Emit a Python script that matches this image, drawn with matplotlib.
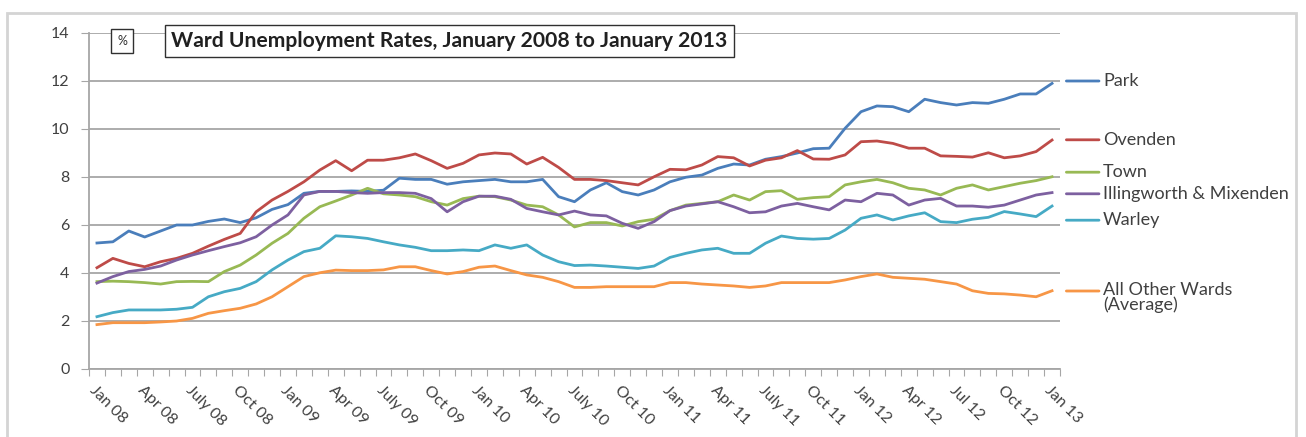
import numpy as np
import matplotlib
matplotlib.use("Agg")
import matplotlib.pyplot as plt
from matplotlib.patches import Rectangle

# ---------------------------------------------------------------------------
# data: monthly ward unemployment rate (%), Jan 2008 .. Jan 2013 (61 months)
# ---------------------------------------------------------------------------
park = [5.25, 5.30, 5.75, 5.50, 5.75, 6.00, 6.00, 6.15, 6.25, 6.10,
        6.30, 6.65, 6.85, 7.32, 7.40, 7.40, 7.42, 7.40, 7.45, 7.95,
        7.90, 7.90, 7.70, 7.80, 7.85, 7.90, 7.80, 7.80, 7.90, 7.18,
        6.97, 7.46, 7.76, 7.39, 7.25, 7.46, 7.80, 7.99, 8.08, 8.36,
        8.54, 8.50, 8.74, 8.85, 9.00, 9.18, 9.20, 10.03, 10.72, 10.96,
        10.93, 10.72, 11.24, 11.10, 11.00, 11.10, 11.07, 11.24, 11.46, 11.46,
        11.90]
ovenden = [4.22, 4.61, 4.40, 4.26, 4.47, 4.61, 4.82, 5.12, 5.40, 5.65,
           6.55, 7.04, 7.40, 7.80, 8.29, 8.68, 8.26, 8.70, 8.70, 8.80,
           8.96, 8.68, 8.36, 8.57, 8.92, 9.00, 8.96, 8.54, 8.82, 8.40,
           7.90, 7.90, 7.85, 7.76, 7.67, 8.01, 8.32, 8.30, 8.50, 8.85,
           8.80, 8.46, 8.70, 8.80, 9.10, 8.75, 8.74, 8.92, 9.47, 9.50,
           9.40, 9.20, 9.20, 8.88, 8.86, 8.83, 9.01, 8.80, 8.88, 9.06,
           9.54]
town = [3.64, 3.66, 3.64, 3.60, 3.54, 3.64, 3.65, 3.64, 4.06, 4.33,
        4.75, 5.24, 5.65, 6.28, 6.76, 7.00, 7.25, 7.53, 7.30, 7.25,
        7.18, 6.97, 6.83, 7.10, 7.20, 7.18, 7.04, 6.83, 6.76, 6.42,
        5.92, 6.10, 6.10, 5.96, 6.14, 6.24, 6.60, 6.83, 6.90, 6.97,
        7.25, 7.04, 7.39, 7.43, 7.07, 7.14, 7.18, 7.67, 7.80, 7.90,
        7.76, 7.53, 7.46, 7.25, 7.53, 7.67, 7.46, 7.60, 7.74, 7.85,
        8.01]
illingworth = [3.58, 3.85, 4.06, 4.15, 4.29, 4.54, 4.75, 4.93, 5.10, 5.26,
               5.51, 6.00, 6.42, 7.25, 7.40, 7.40, 7.35, 7.32, 7.35, 7.35,
               7.32, 7.10, 6.55, 6.97, 7.20, 7.20, 7.07, 6.69, 6.55, 6.42,
               6.58, 6.42, 6.38, 6.07, 5.86, 6.14, 6.60, 6.79, 6.88, 6.97,
               6.76, 6.51, 6.55, 6.79, 6.90, 6.76, 6.63, 7.04, 6.97, 7.32,
               7.25, 6.83, 7.04, 7.11, 6.79, 6.79, 6.74, 6.83, 7.04, 7.25,
               7.35]
warley = [2.18, 2.35, 2.46, 2.46, 2.46, 2.49, 2.57, 3.01, 3.22, 3.36,
          3.64, 4.13, 4.54, 4.89, 5.03, 5.55, 5.51, 5.44, 5.30, 5.17,
          5.07, 4.93, 4.93, 4.96, 4.93, 5.17, 5.03, 5.17, 4.75, 4.47,
          4.31, 4.33, 4.29, 4.24, 4.19, 4.29, 4.65, 4.82, 4.96, 5.03,
          4.82, 4.82, 5.24, 5.54, 5.44, 5.41, 5.44, 5.79, 6.28, 6.42,
          6.21, 6.38, 6.51, 6.14, 6.10, 6.24, 6.32, 6.56, 6.46, 6.35,
          6.79]
other_wards = [1.85, 1.93, 1.93, 1.93, 1.96, 2.00, 2.11, 2.32, 2.43, 2.53,
               2.71, 3.01, 3.43, 3.85, 4.01, 4.12, 4.10, 4.10, 4.13, 4.26,
               4.26, 4.10, 3.96, 4.06, 4.24, 4.29, 4.10, 3.92, 3.82, 3.64,
               3.40, 3.40, 3.43, 3.43, 3.43, 3.43, 3.60, 3.60, 3.54, 3.50,
               3.46, 3.40, 3.46, 3.60, 3.60, 3.60, 3.60, 3.71, 3.85, 3.96,
               3.82, 3.78, 3.74, 3.64, 3.54, 3.26, 3.15, 3.13, 3.08, 3.01,
               3.26]

series_names = ["Park", "Ovenden", "Town", "Illingworth & Mixenden",
                "Warley", "All Other Wards\n(Average)"]
series_vals = [park, ovenden, town, illingworth, warley, other_wards]

tick_labels = ["Jan 08", "Apr 08", "July 08", "Oct 08", "Jan 09", "Apr 09",
               "July 09", "Oct 09", "Jan 10", "Apr 10", "July 10", "Oct 10",
               "Jan 11", "Apr 11", "July 11", "Oct 11", "Jan 12", "Apr 12",
               "Jul 12", "Oct 12", "Jan 13"]

# ---------------------------------------------------------------------------
# style
# ---------------------------------------------------------------------------
colors = ["#4a7ebb", "#be4b48", "#98b954", "#7d60a0", "#46aac5", "#f79646"]
label_y = [12.0, 9.55, 8.2, 7.3, 6.2, 3.25]      # where the end labels sit
FONT = ["Lato", "DejaVu Sans"]
plt.rcParams["font.family"] = FONT
GRID = "#a6a6a6"
TXT = "#404040"

fig = plt.figure(figsize=(13.06, 4.37), dpi=100)
fig.patches.append(Rectangle((7 / 1306, -0.05), 1289 / 1306, 1.05 - 13 / 437,
                             transform=fig.transFigure, fill=False,
                             edgecolor="#d4d4d4", lw=2))
ax = fig.add_axes([89 / 1306, 1 - 369 / 437, 971 / 1306, 336 / 437])

n = len(park)
x = np.arange(n)
for vals, c in zip(series_vals, colors):
    ax.plot(x, vals, color=c, lw=2.0, solid_joinstyle="round", zorder=3)

ax.set_xlim(-0.5, n - 0.5)
ax.set_ylim(0, 14)
ax.set_yticks(np.arange(0, 15, 2))
ax.yaxis.grid(True, color=GRID, lw=1.3)
ax.set_axisbelow(True)
for s in ["top", "right"]:
    ax.spines[s].set_visible(False)
for s in ["left", "bottom"]:
    ax.spines[s].set_color(GRID)
    ax.spines[s].set_linewidth(1.3)
ax.tick_params(axis="y", length=6, color=GRID, labelsize=11.5, labelcolor=TXT, pad=8)

# month boundary ticks, quarter labels
ax.set_xticks(np.arange(-0.5, n, 1.0))
ax.set_xticklabels([])
ax.tick_params(axis="x", which="major", length=5, color=GRID)
ax.set_xticks(np.arange(0, n, 3), minor=True)
ax.set_xticklabels(tick_labels, minor=True, rotation=-45, ha="left",
                   va="top", rotation_mode="anchor", fontsize=11.5, color=TXT)
ax.tick_params(axis="x", which="minor", length=0, pad=10)

# end-of-line labels (line stub + name), to the right of the plot
for name, c, ly in zip(series_names, colors, label_y):
    ax.annotate("", xy=(n + 1.95, ly), xytext=(n - 0.1, ly),
                arrowprops=dict(arrowstyle="-", color=c, lw=2.0,
                                shrinkA=0, shrinkB=0),
                annotation_clip=False)
    if "\n" in name:
        ax.text(n + 2.2, ly + 0.38, name, color=TXT, fontsize=13, va="top",
                ha="left", linespacing=0.9, clip_on=False)
    else:
        ax.text(n + 2.2, ly, name, color=TXT, fontsize=13, va="center",
                ha="left", clip_on=False)

# title and unit boxes
fig.text(171 / 1306, 1 - 41 / 437,
         "Ward Unemployment Rates, January 2008 to January 2013",
         fontsize=15.2, fontweight="bold", color="#202020", va="center", ha="left",
         bbox=dict(boxstyle="square,pad=0.3", fc="white", ec="#303030", lw=1))
fig.text(122 / 1306, 1 - 41 / 437, "%", fontsize=9, color="#303030",
         va="center", ha="center",
         bbox=dict(boxstyle="square,pad=0.45", fc="white", ec="#303030", lw=1))

fig.savefig("out.png", dpi=100, facecolor="white")
